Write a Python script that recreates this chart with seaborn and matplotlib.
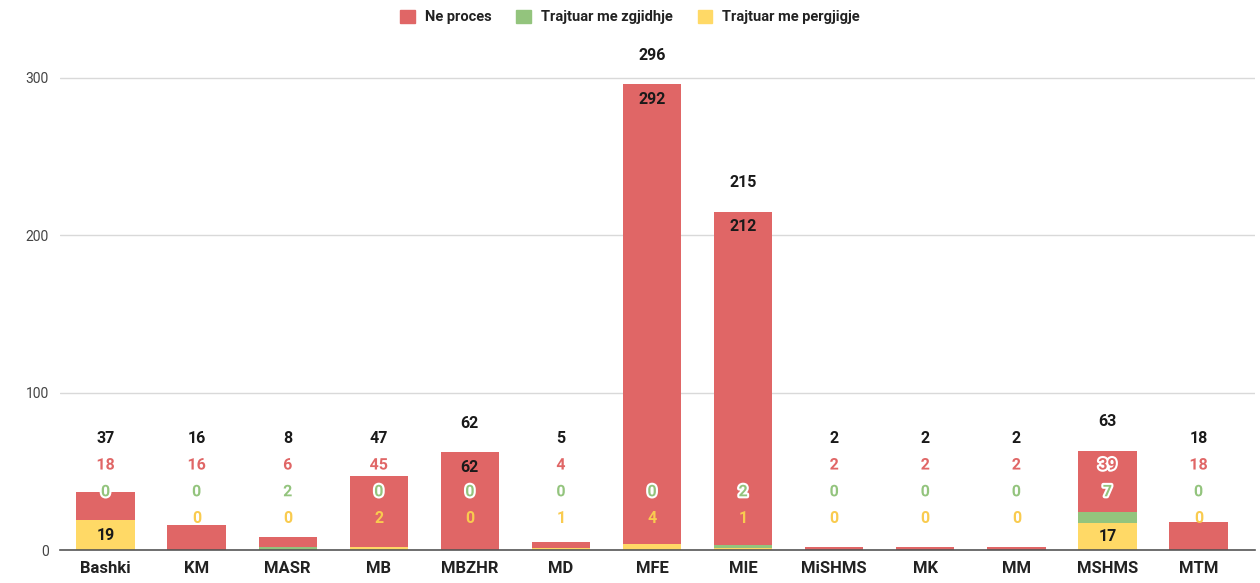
import numpy as np
import pandas as pd
import matplotlib
matplotlib.use('Agg')
import matplotlib.pyplot as plt
import matplotlib.patheffects as pe
from matplotlib.patches import Patch
import seaborn as sns

categories = ['Bashki', 'KM', 'MASR', 'MB', 'MBZHR', 'MD', 'MFE', 'MIE',
              'MiSHMS', 'MK', 'MM', 'MSHMS', 'MTM']
ne_proces = [18, 16, 6, 45, 62, 4, 292, 212, 2, 2, 2, 39, 18]
me_zgjidhje = [0, 0, 2, 0, 0, 0, 0, 2, 0, 0, 0, 7, 0]
me_pergjigje = [19, 0, 0, 2, 0, 1, 4, 1, 0, 0, 0, 17, 0]
yticks = [0, 100, 200, 300]

RED = '#e06666'
GREEN = '#93c47d'
YELLOW = '#ffd966'
YELLOW_TXT = '#f9cb4f'

df = pd.DataFrame({'cat': categories, 'red': ne_proces,
                   'green': me_zgjidhje, 'yellow': me_pergjigje})
df['total'] = df['red'] + df['green'] + df['yellow']

sns.set_style('white')
plt.rcParams['font.family'] = ['Roboto', 'DejaVu Sans']

fig = plt.figure(figsize=(12.6, 5.83), dpi=100)
ax = fig.add_axes([60 / 1260, 33 / 583, 1195 / 1260, 503.5 / 583])

w = 0.64
sns.barplot(data=df, x='cat', y='yellow', color=YELLOW, width=w, ax=ax,
            saturation=1, linewidth=0)
sns.barplot(data=df, x='cat', y='green', bottom=df['yellow'], color=GREEN,
            width=w, ax=ax, saturation=1, linewidth=0)
sns.barplot(data=df, x='cat', y='red', bottom=df['yellow'] + df['green'],
            color=RED, width=w, ax=ax, saturation=1, linewidth=0)

ax.set_xlim(-0.5, 12.62)
ax.set_ylim(0, 320)
ax.set_yticks(yticks)
ax.grid(axis='y', color='#d9d9d9', linewidth=1)
ax.set_axisbelow(True)
for s in ['top', 'right', 'left']:
    ax.spines[s].set_visible(False)
ax.spines['bottom'].set_color('#555555')
ax.spines['bottom'].set_linewidth(1.2)
ax.set_xlabel('')
ax.set_ylabel('')
ax.tick_params(axis='x', length=0, pad=8)
ax.tick_params(axis='y', length=0, pad=8, labelsize=10, labelcolor='#444444')
for t in ax.get_xticklabels():
    t.set_fontsize(12)
    t.set_fontweight('bold')
    t.set_color('#222222')

halo = [pe.withStroke(linewidth=3, foreground='white')]
fs = 11.5

def put(x, y, v, color, stroke):
    ax.text(x, y, str(v), ha='center', va='center', fontsize=fs,
            fontweight='bold', color=color, clip_on=False,
            path_effects=halo if stroke else None)

for i, row in df.iterrows():
    yv, gv, rv, tot = row['yellow'], row['green'], row['red'], row['total']
    # yellow
    if yv >= 15:
        put(i, yv / 2, yv, '#1a1a1a', False)
        ylab = yv / 2
    else:
        ylab = 20
        put(i, ylab, yv, YELLOW_TXT, False)
    # green
    if gv >= 15:
        glab = yv + gv / 2
        put(i, glab, gv, '#1a1a1a', False)
    else:
        glab = max(37, ylab + 17)
        put(i, glab, gv, GREEN, True)
    # red
    if rv >= 50:
        rlab = tot - 9.5
        put(i, rlab, rv, '#1a1a1a', False)
    else:
        rlab = max(54, glab + 17)
        put(i, rlab, rv, RED, True)
    tlab = max(tot + 18.5, rlab + 17)
    put(i, tlab, tot, '#1a1a1a', False)

handles = [Patch(color=RED, label='Ne proces'),
           Patch(color=GREEN, label='Trajtuar me zgjidhje'),
           Patch(color=YELLOW, label='Trajtuar me pergjigje')]
leg = fig.legend(handles=handles, loc='center', bbox_to_anchor=(0.5, 1 - 17 / 583),
                 ncol=3, frameon=False, fontsize=10.5, handlelength=1.0,
                 handleheight=1.0, columnspacing=1.7, handletextpad=0.7)
for t in leg.get_texts():
    t.set_fontweight('semibold')
    t.set_color('#222222')

fig.savefig('out.png', dpi=100)
